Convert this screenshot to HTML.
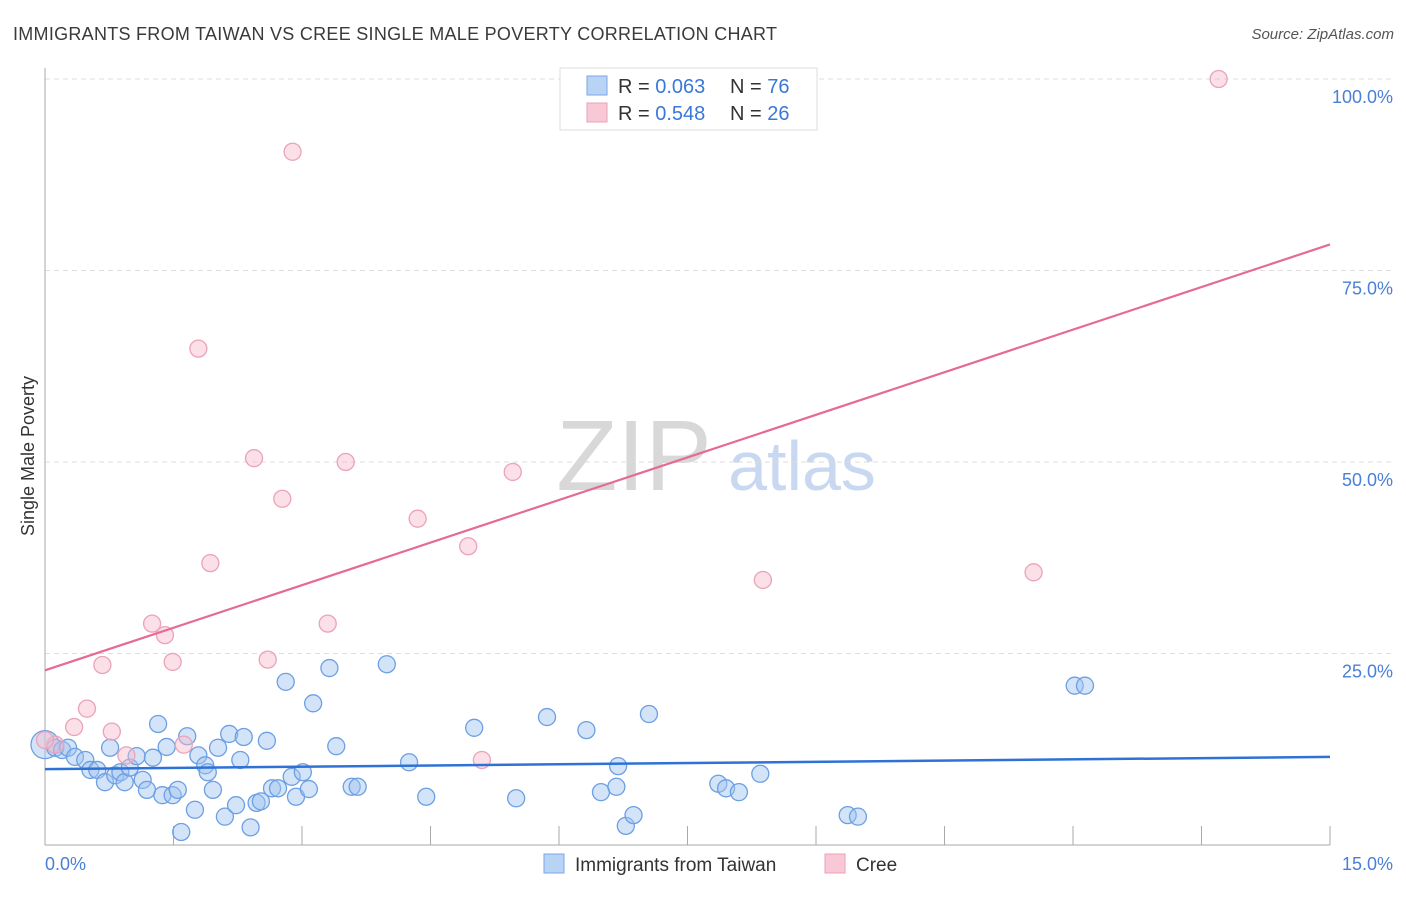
<!DOCTYPE html>
<html><head><meta charset="utf-8"><style>
body{margin:0;background:#fff;font-family:"Liberation Sans",sans-serif}
svg text{font-family:"Liberation Sans",sans-serif}
</style></head><body>
<svg id="chart" width="1406" height="892" xmlns="http://www.w3.org/2000/svg">
<text x="13" y="40" font-size="18" fill="#3a3a3a" textLength="764">IMMIGRANTS FROM TAIWAN VS CREE SINGLE MALE POVERTY CORRELATION CHART</text>
<text x="1394" y="39" font-size="15" fill="#555" text-anchor="end" font-style="italic">Source: ZipAtlas.com</text>
<text x="634" y="490" font-size="100" fill="#d8d8d8" font-family="Liberation Serif" text-anchor="middle">ZIP</text>
<text x="802" y="490" font-size="70" fill="#c8d8f0" text-anchor="middle">atlas</text>
<g id="grid"></g>
<line x1="45" y1="68" x2="45" y2="845" stroke="#aaa"/>
<line x1="45" y1="845" x2="1330" y2="845" stroke="#aaa"/>
<text transform="translate(34,456) rotate(-90)" font-size="18" fill="#333" text-anchor="middle">Single Male Poverty</text>
<text x="45" y="870" font-size="18" fill="#4a7fd6">0.0%</text>
<text x="1393" y="870" font-size="18" fill="#4a7fd6" text-anchor="end">15.0%</text>
<g id="points"></g>
<g id="lines"></g>
<g>
<rect x="560" y="68" width="257" height="62" fill="#fff" stroke="#ddd"/>
<rect x="587" y="76" width="20" height="19" fill="#b9d3f5" stroke="#7aa6e6"/>
<rect x="587" y="103" width="20" height="19" fill="#f9c8d6" stroke="#eaa0b8"/>
<text x="618" y="93" font-size="20" fill="#333">R = <tspan fill="#3a78d8">0.063</tspan></text>
<text x="730" y="93" font-size="20" fill="#333">N = <tspan fill="#3a78d8">76</tspan></text>
<text x="618" y="120" font-size="20" fill="#333">R = <tspan fill="#3a78d8">0.548</tspan></text>
<text x="730" y="120" font-size="20" fill="#333">N = <tspan fill="#3a78d8">26</tspan></text>
</g>
<g>
<rect x="544" y="854" width="20" height="19" fill="#b9d3f5" stroke="#7aa6e6"/>
<text x="575" y="871" font-size="19" fill="#333">Immigrants from Taiwan</text>
<rect x="825" y="854" width="20" height="19" fill="#f9c8d6" stroke="#eaa0b8"/>
<text x="856" y="871" font-size="19" fill="#333">Cree</text>
</g>
</svg>
<script>
const blueX=[0,0.12,0.20,0.27,0.35,0.47,0.53,0.61,0.70,0.76,0.82,0.88,0.93,0.99,1.07,1.14,1.19,1.26,1.32,1.37,1.42,1.49,1.55,1.59,1.66,1.75,1.79,1.87,1.90,1.96,2.02,2.10,2.15,2.23,2.28,2.32,2.40,2.47,2.52,2.59,2.65,2.72,2.81,2.88,2.93,3.01,3.08,3.13,3.32,3.40,3.58,3.65,3.99,4.25,4.45,5.01,5.50,5.86,6.32,6.49,6.69,6.67,6.78,6.87,7.05,7.86,7.95,8.10,8.35,9.37,9.49,12.02,12.14];
const blueY=[13.1,12.7,12.4,12.7,11.5,11.1,9.8,9.8,8.2,12.7,9.1,9.5,8.2,10.1,11.6,8.5,7.2,11.4,15.8,6.5,12.8,6.5,7.2,1.7,14.2,4.6,11.7,10.4,9.5,7.2,12.7,3.7,14.5,5.2,11.1,14.1,2.3,5.5,5.7,13.6,7.4,7.4,21.3,8.9,6.3,9.5,7.3,18.5,23.1,12.9,7.6,7.6,23.6,10.8,6.3,15.3,6.1,16.7,15.0,6.9,10.3,7.6,2.5,3.9,17.1,8.0,7.4,6.9,9.3,3.9,3.7,20.8,20.8];
const pinkX=[13.70,2.89,1.79,2.44,3.51,2.77,5.46,4.35,4.94,1.93,8.38,11.54,1.25,1.40,3.30,0.67,1.49,2.60,0.49,0.34,0.78,0.95,1.62,5.10,0.12,0];
const pinkY=[100,90.5,64.8,50.5,50.0,45.2,48.7,42.6,39.0,36.8,34.6,35.6,28.9,27.4,28.9,23.5,23.9,24.2,17.8,15.4,14.8,11.7,13.1,11.1,13.1,13.7];
const blueTrend=[9.9,11.5];
const pinkTrend=[22.8,78.4];
const yTicks=[25,50,75,100];
const yTickLabels=["25.0%","50.0%","75.0%","100.0%"];
const xTicks=[0,1.5,3,4.5,6,7.5,9,10.5,12,13.5,15];
const NS="http://www.w3.org/2000/svg";
const sx=v=>45+v/15*1285, sy=v=>845-v/100*766;
function mk(t,a,p){const e=document.createElementNS(NS,t);for(const k in a)e.setAttribute(k,a[k]);p.appendChild(e);return e;}
const grid=document.getElementById('grid');
yTicks.forEach((t,i)=>{
 const l=mk('line',{x1:45,x2:1395,y1:sy(t),y2:sy(t),stroke:'#ddd','stroke-dasharray':'5,4'},grid);
 
 
 const tx=mk('text',{x:1393,y:sy(t)+24,'font-size':18,fill:'#4a7fd6','text-anchor':'end'},grid);
 tx.textContent=yTickLabels[i];
 
 
});
xTicks.forEach(t=>{
 const l=mk('line',{x1:sx(t),x2:sx(t),y1:826,y2:845,stroke:'#aaa'},grid);
 
 
});
const pts=document.getElementById('points');
blueX.forEach((x,i)=>{
 const c=mk('circle',{cx:sx(x),cy:sy(blueY[i]),r:i==0?14:8.5,fill:'rgba(160,196,240,0.45)',stroke:'#6c9fe3','stroke-width':1.3},pts);
 
 
});
pinkX.forEach((x,i)=>{
 const c=mk('circle',{cx:sx(x),cy:sy(pinkY[i]),r:8.5,fill:'rgba(246,186,204,0.45)',stroke:'#eba2bb','stroke-width':1.3},pts);
 
 
});
const ln=document.getElementById('lines');
const b=mk('line',{x1:sx(0),x2:sx(15),y1:sy(blueTrend[0]),y2:sy(blueTrend[1]),stroke:'#2f72d6','stroke-width':2.5},ln);


const p=mk('line',{x1:sx(0),x2:sx(15),y1:sy(pinkTrend[0]),y2:sy(pinkTrend[1]),stroke:'#e56b94','stroke-width':2.2},ln);


</script>
</body></html>
